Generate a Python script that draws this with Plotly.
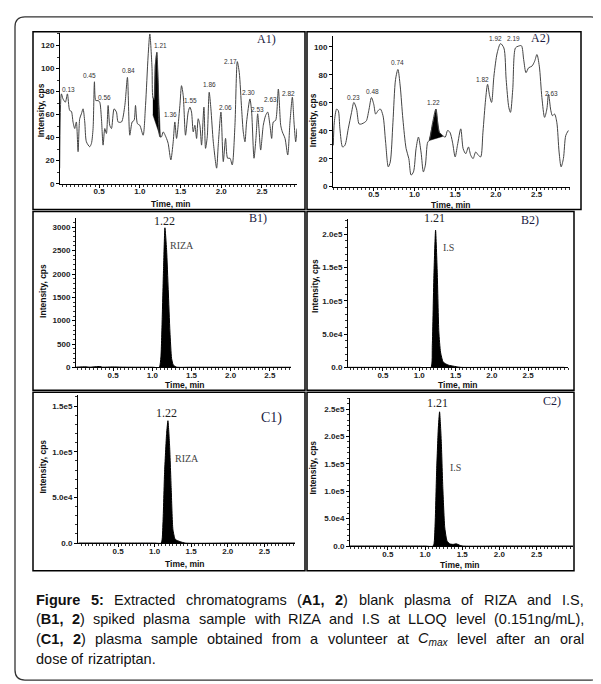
import plotly.graph_objects as go

W, H = 601, 684


def px(x):
    return x / W


def py(y):
    return 1 - y / H


# ---------------- data ----------------
# A1) blank plasma, RIZA channel
a1_time = [0.016, 0.037, 0.057, 0.086, 0.111, 0.139, 0.160, 0.180, 0.201, 0.221, 0.242, 0.262, 0.283, 0.303,
           0.324, 0.344, 0.385, 0.406, 0.426, 0.443, 0.459, 0.488, 0.508, 0.529, 0.549, 0.570, 0.590, 0.611,
           0.631, 0.652, 0.684, 0.713, 0.734, 0.775, 0.816, 0.848, 0.877, 0.906, 0.930, 0.947, 0.971, 1.000,
           1.041, 1.070, 1.102, 1.123, 1.150, 1.160, 1.176, 1.190, 1.209, 1.225, 1.246, 1.266, 1.287, 1.328,
           1.348, 1.381, 1.410, 1.430, 1.451, 1.492, 1.512, 1.533, 1.561, 1.594, 1.615, 1.635, 1.656, 1.676,
           1.697, 1.717, 1.738, 1.758, 1.787, 1.807, 1.828, 1.852, 1.873, 1.902, 1.943, 1.963, 1.996, 2.025,
           2.053, 2.078, 2.107, 2.135, 2.168, 2.197, 2.221, 2.250, 2.270, 2.291, 2.311, 2.352, 2.373, 2.402,
           2.426, 2.447, 2.463, 2.484, 2.516, 2.545, 2.570, 2.598, 2.619, 2.639, 2.668, 2.701, 2.730, 2.750,
           2.783, 2.816, 2.844, 2.873, 2.893, 2.914, 2.930]
a1_int = [13.5, 78, 73.6, 70.8, 78, 63.6, 62.8, 53.6, 47.9, 53.6, 27.8, 56.4, 60.7, 65,
          53.6, 36.4, 32.1, 35, 47.9, 88.5, 72.2, 72.2, 70.8, 56.4, 33.5, 47.9, 43.6, 67.9,
          50.7, 47.9, 65, 62.2, 53.6, 53.6, 67.9, 92.3, 42.1, 53.6, 55, 67.9, 52.1, 50.7,
          42.1, 67.9, 110.9, 130, 100, 75, 73, 103, 114, 88, 40.7, 40.7, 45, 39.3,
          35, 20.6, 36.4, 53.6, 39.3, 67.9, 85.1, 76.5, 42.1, 62.2, 66.5, 62.2, 45, 50.7,
          39.3, 56.4, 50.7, 33.5, 66.5, 30.7, 40.7, 79.4, 65, 36.4, 13.5, 33.5, 62.2, 19.2,
          39.3, 22.1, 22.1, 16.3, 50.7, 106, 96.6, 65, 45, 36.4, 53.6, 73.6, 62.2, 22.1,
          39.3, 60.7, 47.9, 29.2, 50.7, 59.3, 62.2, 50.7, 39.3, 53.6, 55, 82.2, 50.7, 45,
          39.3, 24.9, 53.6, 75.1, 53.6, 36.4, 47.9]
a1_fill_time = [1.160, 1.176, 1.190, 1.209, 1.225, 1.246, 1.252, 1.160]
a1_fill_int = [75, 73, 103, 114, 88, 40.7, 40.5, 60]
a1_labels = ["0.13", "0.45", "0.56", "0.84", "1.21", "1.36", "1.55", "1.86", "2.06", "2.17", "2.30",
             "2.53", "2.63", "2.82"]

# A2) blank plasma, I.S channel
a2_time = [0.004, 0.016, 0.045, 0.065, 0.085, 0.118, 0.146, 0.187, 0.228, 0.256, 0.289, 0.321, 0.350,
           0.390, 0.411, 0.443, 0.472, 0.500, 0.524, 0.553, 0.581, 0.614, 0.646, 0.679, 0.703, 0.736,
           0.768, 0.797, 0.825, 0.858, 0.898, 0.931, 0.959, 0.988, 1.020, 1.049, 1.081, 1.110, 1.134,
           1.163, 1.183, 1.224, 1.264, 1.305, 1.346, 1.378, 1.407, 1.435, 1.467, 1.500, 1.528, 1.569,
           1.598, 1.630, 1.663, 1.691, 1.720, 1.752, 1.785, 1.813, 1.841, 1.874, 1.898, 1.923, 1.947,
           1.976, 2.016, 2.057, 2.098, 2.126, 2.159, 2.179, 2.207, 2.240, 2.272, 2.313, 2.341, 2.370,
           2.402, 2.443, 2.476, 2.504, 2.533, 2.565, 2.598, 2.626, 2.646, 2.675, 2.695, 2.720, 2.748,
           2.776, 2.801, 2.829, 2.858, 2.890]
a2_int = [29.6, 46.1, 55.6, 54.4, 41.4, 28.4, 29.6, 41.4, 53.2, 60.3, 55.6, 44.9, 44.9,
          46.1, 47.3, 55.6, 63.8, 59.1, 52, 54.4, 55.6, 50.8, 31.9, 14.2, 17.7, 46.1,
          76.8, 83.9, 72.1, 48.5, 27.2, 20.1, 8.3, 10.6, 27.2, 35.5, 24.8, 10.6, 15.4,
          31.9, 33.1, 46.1, 55.6, 39, 36.6, 35.5, 40.2, 39, 31.9, 21.3, 29.6, 41.4,
          27.2, 23.6, 28.4, 22.5, 20.1, 24.8, 22.5, 21.3, 39, 62.6, 73.3, 65, 60.3,
          79.2, 95.7, 102.4, 99.3, 76.8, 56.7, 53.2, 69.7, 99.3, 100.5, 100.9, 91, 81.6,
          85.1, 86.3, 89.8, 94.6, 86.3, 63.8, 49.6, 55.6, 66.2, 54.4, 50.8, 52, 46.1,
          24.8, 14.2, 20.1, 36.6, 40.2]
a2_fill_time = [1.180, 1.224, 1.264, 1.290, 1.305, 1.346, 1.346, 1.180]
a2_fill_int = [33, 46.1, 55.6, 44, 39, 36.6, 36, 33]
a2_labels = ["0.23", "0.48", "0.74", "1.22", "1.82", "1.92", "2.19", "2.63"]

# B1) LLOQ, RIZA
b1_time = [0.03, 0.15, 0.20, 0.33, 0.36, 0.50, 0.60, 0.80, 1.00, 1.089, 1.110, 1.127, 1.144, 1.161,
           1.182, 1.203, 1.225, 1.246, 1.267, 1.31, 1.50, 2.00, 2.50, 2.77]
b1_int = [5, 12, 5, 18, 5, 10, 5, 3, 3, 0, 225, 1100, 2160, 2990,
          2520, 1670, 755, 190, 50, 5, 3, 2, 2, 2]

# B2) LLOQ, I.S
b2_time = [0.02, 0.50, 1.00, 1.162, 1.180, 1.203, 1.225, 1.248, 1.270, 1.293, 1.329, 1.396, 1.509,
           1.577, 2.00, 3.00]
b2_int = [0, 0, 0, 0, 33000, 142000, 206000, 142000, 53000, 23000, 8000, 3500, 1000,
          0, 0, 0]

# C1) volunteer at Cmax, RIZA
c1_time = [-0.04, 0.50, 1.00, 1.091, 1.114, 1.136, 1.164, 1.182, 1.205, 1.227, 1.250, 1.282, 1.350,
           1.418, 2.00, 2.92]
c1_int = [0, 0, 0, 0, 22000, 77000, 120000, 134000, 106000, 59000, 15000, 4000, 1500,
          0, 0, 0]

# C2) volunteer at Cmax, I.S
c2_time = [-0.01, 0.50, 1.00, 1.111, 1.133, 1.155, 1.177, 1.195, 1.217, 1.239, 1.265, 1.296, 1.332,
           1.376, 1.420, 1.465, 1.509, 2.00, 2.99]
c2_int = [0, 0, 0, 0, 33000, 135000, 212000, 245000, 194000, 105000, 33000, 9000, 4000,
          3000, 4000, 1500, 0, 0, 0]

x_ticks = [0.5, 1.0, 1.5, 2.0, 2.5]
x_tick_text = ["0.5", "1.0", "1.5", "2.0", "2.5"]
a1_y_ticks = [0, 20, 40, 60, 80, 100, 120]
a2_y_ticks = [0, 20, 40, 60, 80, 100]
b1_y_ticks = [0, 500, 1000, 1500, 2000, 2500, 3000]
b2_y_ticks = [0, 50000, 100000, 150000, 200000]
b2_y_text = ["0.0", "5.0e4", "1.0e5", "1.5e5", "2.0e5"]
c1_y_ticks = [0, 50000, 100000, 150000]
c1_y_text = ["0.0", "5.0e4", "1.0e5", "1.5e5"]
c2_y_ticks = [0, 50000, 100000, 150000, 200000, 250000]
c2_y_text = ["0.0", "5.0e4", "1.0e5", "1.5e5", "2.0e5", "2.5e5"]

# ---------------- layout helpers ----------------
TICKFONT = dict(family="Liberation Sans", size=8, color="#222", weight="bold")
TITLEFONT = dict(family="Liberation Sans", size=8.5, color="#111", weight="bold")
SERIF = "Liberation Serif"
NAVY = "#1b1b3f"

fig = go.Figure()

panels = [
    dict(k="", box=(52, 289, 25, 177), xr=[0.02, 2.93], yr=[0, 131], yt=a1_y_ticks, ytt=[str(v) for v in a1_y_ticks],
         ymin=10, frame=(25, 24, 297, 203), ytp=(33, 103), xtp=(163, 197)),
    dict(k="2", box=(325, 562, 28, 180), xr=[0.0, 2.91], yr=[0, 108], yt=a2_y_ticks, ytt=[str(v) for v in a2_y_ticks],
         ymin=10, frame=(299, 24, 573, 203), ytp=(305, 113), xtp=(443, 198)),
    dict(k="3", box=(68, 283, 212, 362), xr=[0.026, 2.77], yr=[0, 3190], yt=b1_y_ticks, ytt=[str(v) for v in b1_y_ticks],
         ymin=100, frame=(25, 205, 297, 385), ytp=(35, 285), xtp=(177, 380)),
    dict(k="4", box=(340, 560, 213, 362), xr=[0.018, 3.05], yr=[0, 222000], yt=b2_y_ticks, ytt=b2_y_text,
         ymin=10000, frame=(299, 205, 566, 385), ytp=(307, 280), xtp=(450, 380)),
    dict(k="5", box=(70, 287, 390, 539), xr=[-0.048, 2.92], yr=[0, 162000], yt=c1_y_ticks, ytt=c1_y_text,
         ymin=10000, frame=(25, 387, 297, 567), ytp=(35, 462), xtp=(177, 560)),
    dict(k="6", box=(342, 565, 393, 542), xr=[-0.01, 2.99], yr=[0, 270000], yt=c2_y_ticks, ytt=c2_y_text,
         ymin=10000, frame=(299, 387, 566, 567), ytp=(305, 463), xtp=(452, 561)),
]

layout = dict(
    width=W, height=H, margin=dict(l=0, r=0, t=0, b=0),
    paper_bgcolor="white", plot_bgcolor="rgba(0,0,0,0)", showlegend=False,
)
shapes = []
annotations = []

for p in panels:
    k = p["k"]
    x0, x1, yt_, yb_ = p["box"]
    layout["xaxis" + k] = dict(
        domain=[px(x0), px(x1)], range=p["xr"], anchor="y" + k, showline=True, linecolor="black", linewidth=1,
        ticks="outside", ticklen=3, tickcolor="black", tickvals=x_ticks, ticktext=x_tick_text, tickfont=TICKFONT,
        ticklabelstandoff=-3,
        showgrid=False, zeroline=False, fixedrange=True,
        minor=dict(ticks="outside", ticklen=2, tickcolor="#333", dtick=0.05, tick0=0, showgrid=False),
    )
    layout["yaxis" + k] = dict(
        domain=[py(yb_), py(yt_)], range=p["yr"], anchor="x" + k, showline=True, linecolor="black", linewidth=1,
        ticks="outside", ticklen=3, tickcolor="black", tickvals=p["yt"], ticktext=p["ytt"], tickfont=TICKFONT,
        showgrid=False, zeroline=False, fixedrange=True,
        minor=dict(ticks="outside", ticklen=2, tickcolor="#333", dtick=p["ymin"], tick0=0, showgrid=False),
    )
    fx0, fy0, fx1, fy1 = p["frame"]
    shapes.append(dict(type="rect", xref="paper", yref="paper", x0=px(fx0), x1=px(fx1), y0=py(fy1), y1=py(fy0),
                       line=dict(color="black", width=1.5), layer="below"))
    annotations.append(dict(text="Intensity, cps", xref="paper", yref="paper", x=px(p["ytp"][0]), y=py(p["ytp"][1]),
                            textangle=-90, showarrow=False, font=TITLEFONT, xanchor="center", yanchor="middle"))
    annotations.append(dict(text="Time, min", xref="paper", yref="paper", x=px(p["xtp"][0]), y=py(p["xtp"][1]),
                            showarrow=False, font=TITLEFONT, xanchor="center", yanchor="middle"))

# ---------------- traces ----------------
fig.add_trace(go.Scatter(x=a1_fill_time, y=a1_fill_int, fill="toself", fillcolor="black", mode="lines",
                         line=dict(color="black", width=0.5), xaxis="x", yaxis="y", hoverinfo="skip"))
fig.add_trace(go.Scatter(x=a1_time, y=a1_int, mode="lines", line=dict(color="#444", width=1, shape="spline",
                                                                    smoothing=0.7), xaxis="x", yaxis="y"))
fig.add_trace(go.Scatter(x=a2_fill_time, y=a2_fill_int, fill="toself", fillcolor="black", mode="lines",
                         line=dict(color="black", width=0.5), xaxis="x2", yaxis="y2", hoverinfo="skip"))
fig.add_trace(go.Scatter(x=a2_time, y=a2_int, mode="lines", line=dict(color="#444", width=1, shape="spline",
                                                                    smoothing=0.8), xaxis="x2", yaxis="y2"))
for tx, ty, k in [(b1_time, b1_int, "3"), (b2_time, b2_int, "4"), (c1_time, c1_int, "5"), (c2_time, c2_int, "6")]:
    fig.add_trace(go.Scatter(x=tx, y=ty, mode="lines", fill="tozeroy", fillcolor="black",
                             line=dict(color="black", width=1, shape="spline", smoothing=0.5),
                             xaxis="x" + k, yaxis="y" + k))

# ---------------- annotations ----------------
SMALL = dict(family="Liberation Sans", size=6.5, color="#333")
a1_label_pos = [(0.12, 82), (0.38, 94), (0.57, 75), (0.86, 98), (1.25, 120), (1.38, 60), (1.62, 72), (1.86, 86),
                (2.05, 66), (2.11, 106), (2.33, 79), (2.45, 64), (2.61, 73), (2.82, 78)]
for lab, (lx, ly) in zip(a1_labels, a1_label_pos):
    annotations.append(dict(text=lab, x=lx, y=ly, xref="x", yref="y", showarrow=False, font=SMALL))
a2_label_pos = [(0.25, 64), (0.48, 68), (0.79, 89), (1.24, 60), (1.84, 77), (1.99, 106), (2.22, 106), (2.68, 67)]
for lab, (lx, ly) in zip(a2_labels, a2_label_pos):
    annotations.append(dict(text=lab, x=lx, y=ly, xref="x2", yref="y2", showarrow=False, font=SMALL))


def pann(text, x, y, size, color=NAVY, family=SERIF):
    annotations.append(dict(text=text, xref="paper", yref="paper", x=px(x), y=py(y), showarrow=False,
                            xanchor="center", yanchor="middle", font=dict(family=family, size=size, color=color)))


pann("A1)", 258, 31, 12)
pann("A2)", 532, 30, 12)
pann("B1)", 250, 212, 12)
pann("B2)", 522, 214, 12)
pann("C1)", 263, 413, 14)
pann("C2)", 544, 396, 12)
pann("1.22", 156, 215, 12, "#222")
pann("RIZA", 174, 239, 10, "#444")
pann("1.21", 426, 212, 12, "#222")
pann("I.S", 440, 241, 10, "#444")
pann("1.22", 158, 408, 12, "#222")
pann("RIZA", 179, 454, 10, "#444")
pann("1.21", 429, 398, 12, "#222")
pann("I.S", 447, 463, 10, "#444")

# ---------------- caption (justified) ----------------
caption_lines = [
    "<b>Figure 5:</b> Extracted chromatograms (<b>A1, 2</b>) blank plasma of RIZA and I.S,",
    "(<b>B1, 2</b>) spiked plasma sample with RIZA and I.S at LLOQ level (0.151ng/mL),",
    "(<b>C1, 2</b>) plasma sample obtained from a volunteer at <i>C</i><sub>max</sub> level after an oral",
    "dose of rizatriptan.",
]
CAP_SIZE = 14.5
CAP_LEFT, CAP_RIGHT = 27, 575
CAP_Y = [596, 616, 636, 656]

REG = dict(zip("abcdefghijklmnopqrstuvwxyz",
               [556, 556, 500, 556, 556, 278, 556, 556, 222, 222, 500, 222, 833, 556, 556, 556, 556, 333, 500, 278,
                556, 500, 722, 500, 500, 500]))
REG.update(dict(zip("ABCDEFGHIJKLMNOPQRSTUVWXYZ",
                    [667, 667, 722, 722, 667, 611, 778, 722, 278, 500, 667, 556, 833, 722, 778, 667, 778, 722, 667,
                     611, 722, 667, 944, 667, 667, 611])))
REG.update({c: 556 for c in "0123456789"})
REG.update({" ": 278, "(": 333, ")": 333, ",": 278, ".": 278, ":": 278, "/": 278})
BOLD = dict(zip("abcdefghijklmnopqrstuvwxyz",
                [556, 611, 556, 611, 556, 333, 611, 611, 278, 278, 556, 278, 889, 611, 611, 611, 611, 389, 556, 333,
                 611, 556, 778, 556, 556, 500]))
BOLD.update(dict(zip("ABCDEFGHIJKLMNOPQRSTUVWXYZ",
                     [722, 722, 722, 722, 667, 611, 778, 722, 278, 556, 722, 611, 833, 722, 778, 667, 778, 722, 667,
                      611, 722, 667, 944, 667, 667, 611])))
BOLD.update({c: 556 for c in "0123456789"})
BOLD.update({" ": 278, "(": 333, ")": 333, ",": 278, ".": 278, ":": 333})


def tokenize(s):
    toks = []
    st = dict(b=False, i=False, sub=False)
    i = 0
    while i < len(s):
        if s[i] == "<":
            j = s.index(">", i)
            tag = s[i + 1:j]
            on = not tag.startswith("/")
            st[tag.strip("/")] = on
            i = j + 1
            continue
        toks.append((s[i], st["b"], st["i"], st["sub"]))
        i += 1
    return toks


def word_html(chars):
    out = ""
    for c, b, it, sub in chars:
        t = c
        if it or sub:
            t = "<i>" + t + "</i>"
        if b:
            t = "<b>" + t + "</b>"
        if sub:
            t = "<sub>" + t + "</sub>"
        out += t
    return out.replace("</b><b>", "").replace("</i><i>", "").replace("</sub><sub>", "")


def word_width(chars):
    w = 0
    for c, b, it, sub in chars:
        tbl = BOLD if b else REG
        w += tbl.get(c, 556) / 1000 * CAP_SIZE * (0.7 if sub else 1)
    return w


for li, line in enumerate(caption_lines):
    toks = tokenize(line)
    words, cur = [], []
    for t in toks:
        if t[0] == " ":
            if cur:
                words.append(cur)
            cur = []
        else:
            cur.append(t)
    if cur:
        words.append(cur)
    widths = [word_width(w) for w in words]
    if li < len(caption_lines) - 1 and len(words) > 1:
        gap = (CAP_RIGHT - CAP_LEFT - sum(widths)) / (len(words) - 1)
    else:
        gap = 278 / 1000 * CAP_SIZE
    xcur = CAP_LEFT
    for w, wd in zip(words, widths):
        annotations.append(dict(text=word_html(w), xref="paper", yref="paper", x=px(xcur), y=py(CAP_Y[li]),
                                xanchor="left", yanchor="middle", showarrow=False, borderpad=0,
                                font=dict(family="Liberation Sans", size=CAP_SIZE, color="#111")))
        xcur += wd + gap

# outer rounded border
L, T, R, B, r = 7, 9, 593, 677, 10
rx, ry = r / W, r / H
path = (f"M {px(L)+rx} {py(T)} L {px(R)-rx} {py(T)} Q {px(R)} {py(T)} {px(R)} {py(T)-ry} "
        f"L {px(R)} {py(B)+ry} Q {px(R)} {py(B)} {px(R)-rx} {py(B)} "
        f"L {px(L)+rx} {py(B)} Q {px(L)} {py(B)} {px(L)} {py(B)+ry} "
        f"L {px(L)} {py(T)-ry} Q {px(L)} {py(T)} {px(L)+rx} {py(T)} Z")
shapes.append(dict(type="path", xref="paper", yref="paper", path=path, line=dict(color="#333", width=1.3)))

layout["shapes"] = shapes
layout["annotations"] = annotations
fig.update_layout(**layout)
fig.write_html("out.html")
